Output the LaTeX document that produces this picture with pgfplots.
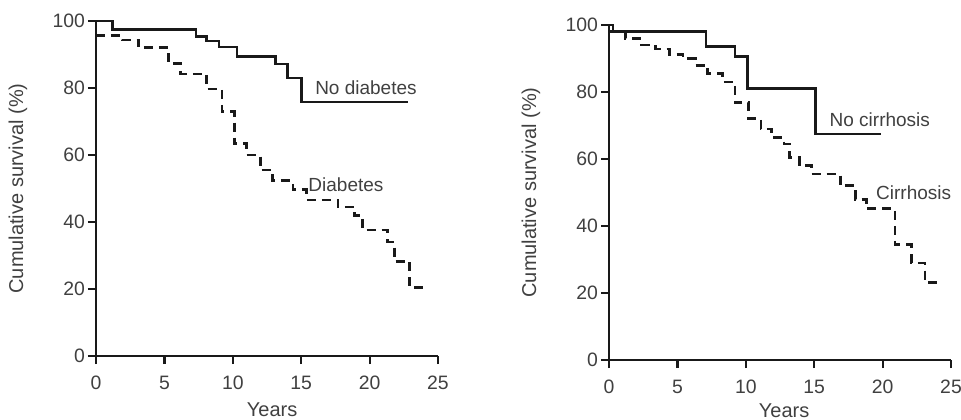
\documentclass[border=0pt]{standalone}
\usepackage{fontspec}
\setmainfont{Liberation Sans}
\usepackage{pgfplots}
\pgfplotsset{compat=1.18}
\definecolor{txt}{gray}{0.25}
\definecolor{ln}{gray}{0.1}

\pgfplotsset{km/.style={
  scale only axis, width=171pt, height=167.5pt,
  xmin=0, xmax=25, ymin=0, ymax=100,
  axis x line=bottom, axis y line=left,
  axis line style={-, line width=1.1pt, color=ln},
  xtick={0,5,...,25}, ytick={0,20,...,100},
  tick align=outside, major tick length=4pt,
  every tick/.style={line width=1.1pt, color=ln},
  tick label style={font=\fontsize{9.7}{11}\selectfont, text=txt},
  /pgf/number format/assume math mode=true,
  xticklabel style={yshift=-2.5pt},
  yticklabel style={xshift=2pt},
  every axis y label/.style={at={(axis description cs:-0.228,0.5)}, rotate=90, anchor=center, font=\fontsize{10}{12}\selectfont, text=txt},
  every axis x label/.style={at={(axis description cs:0.515,-0.160)}, anchor=center, font=\fontsize{10}{12}\selectfont, text=txt},
  ylabel={Cumulative survival (\%)}, xlabel={Years},
  clip=false,
}}
\tikzset{
  solidkm/.style={const plot, line width=1.35pt, color=ln, mark=none},
  dashkm/.style={const plot, line width=1.35pt, color=ln, mark=none, dash pattern=on 4.5pt off 3pt},
  ann/.style={anchor=west, inner sep=0pt, font=\fontsize{9.5}{11}\selectfont, text=txt},
}

\begin{document}
\begin{tikzpicture}
\begin{axis}[km, at={(0pt,0pt)}, anchor=south west]
\addplot[solidkm] coordinates {
(0,100) (1.2,97.5) (7.3,95.3) (8.1,94) (9.0,92.2) (10.3,89.5) (13.1,87.2) (14.0,83) (15.0,75.8) (22.8,75.8)};
\addplot[dashkm] coordinates {
(0,95.6) (1.9,94.3) (3.1,92) (5.3,87.3) (6.2,84.2) (8.1,79.7) (9.2,73) (10.1,63.5) (11.0,60) (12.0,55.5) (12.9,52.3) (14.4,49.6) (15.4,46.6) (17.7,44.5) (18.9,42) (19.5,37.6) (21.3,34) (21.8,28.3) (22.9,20.5) (24.0,20.5)};
\node[ann] at (axis cs:16.0,80) {No diabetes};
\node[ann] at (axis cs:15.5,51) {Diabetes};
\end{axis}
\begin{axis}[km, at={(256.5pt,-2pt)}, anchor=south west,
  every axis x label/.append style={at={(axis description cs:0.512,-0.150)}}]
\addplot[solidkm] coordinates {
(0,100) (0.3,98) (7.1,93.5) (9.2,90.5) (10.1,81) (15.1,67.5) (19.9,67.5)};
\addplot[dashkm] coordinates {
(0,98) (1.2,96) (2.4,94) (3.4,92.8) (4.4,91.3) (5.4,90) (6.3,88) (7.2,85.5) (8.3,83) (9.2,76.8) (10.2,72) (11.1,69) (11.9,66.5) (12.8,64.5) (13.2,60.5) (13.9,58) (14.8,55.5) (16.9,52) (18.0,48) (18.8,45.2) (20.9,34.5) (22.1,29) (23.1,23.2) (24.0,23.2)};
\node[ann] at (axis cs:16.1,71.7) {No cirrhosis};
\node[ann] at (axis cs:19.5,50) {Cirrhosis};
\end{axis}
\pgfresetboundingbox
\path[use as bounding box] (-48pt,-31.5pt) rectangle (432.5pt,178pt);
\end{tikzpicture}
\end{document}
